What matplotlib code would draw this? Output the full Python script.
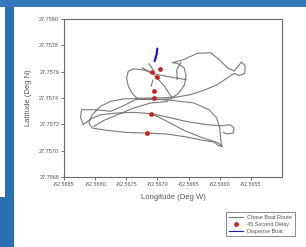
import numpy as np
import matplotlib
matplotlib.use("Agg")
import matplotlib.pyplot as plt
from matplotlib.patches import Rectangle
from matplotlib.lines import Line2D

plt.rcParams['font.family'] = ['Liberation Sans', 'DejaVu Sans']
plt.rcParams['axes.unicode_minus'] = False

N = np.nan
# Chase boat route (lon, lat), legs separated by NaN
route_lon = [
    -82.567083, -82.567217, -82.567377, -82.567468, -82.567495, -82.567468, -82.567404, -82.567324,
    -82.567163, -82.567002, -82.566788, -82.566654, -82.566563, -82.566541, -82.566573, -82.566681,
    -82.566761,
    -82.566573, -82.566359, -82.566145, -82.566011, -82.565877, -82.565770, -82.565705, -82.565652,
    -82.565593, -82.565598, -82.565689, -82.565770, -82.565877, -82.566038, -82.566252, -82.566466,
    -82.566681, -82.566949, -82.567270, -82.567538, -82.567752, -82.567913, -82.568047, -82.568101,
    -82.568047,
    -82.567806, -82.567484, -82.567163, -82.566841, -82.566520, -82.566252, -82.566038, -82.565957,
    -82.566027,
    -82.566091, -82.566305, -82.566573, -82.566841, -82.567099, -82.567377, -82.567645, -82.567913,
    -82.568074, -82.568192, -82.568235, -82.568219, -82.567994, -82.567752, -82.567565, -82.567350,
    -82.567083,
    -82.566734, -82.566413, -82.566171, -82.566048, -82.566000, -82.565984, -82.565973, N,
    -82.567099, -82.566841, -82.566520, -82.566198, -82.565984, -82.565834, -82.565770, -82.565786,
    -82.565877, -82.565941, N,
    -82.567243, -82.567083, -82.566815, -82.566541, N,
    -82.567045, -82.566895, -82.566761, N,
    -82.566627, -82.566691, -82.566681, N,
    -82.568020, -82.567860, -82.567645, -82.567377, -82.567109, -82.566841, N,
    -82.567136, -82.567066, N,
    -82.567077, -82.567099,
]
route_lat = [
    27.757591, 27.757612, 27.757622, 27.757604, 27.757553, 27.757490, 27.757434, 27.757398,
    27.757388, 27.757388, 27.757393, 27.757439, 27.757502, 27.757571, 27.757630, 27.757663,
    27.757668,
    27.757693, 27.757739, 27.757744, 27.757693, 27.757630, 27.757604, 27.757642, 27.757673,
    27.757647, 27.757586, 27.757571, 27.757586, 27.757553, 27.757502, 27.757459, 27.757426,
    27.757408, 27.757401, 27.757398, 27.757393, 27.757375, 27.757337, 27.757273, 27.757210,
    27.757172,
    27.757154, 27.757138, 27.757133, 27.757126, 27.757103, 27.757077, 27.757062, 27.757032,
    27.757039,
    27.757070, 27.757103, 27.757154, 27.757222, 27.757281, 27.757291, 27.757286, 27.757273,
    27.757240, 27.757197, 27.757255, 27.757311, 27.757311, 27.757299, 27.757337, 27.757388,
    27.757393,
    27.757380, 27.757362, 27.757311, 27.757248, 27.757172, 27.757095, 27.757032, N,
    27.757281, 27.757255, 27.757220, 27.757197, 27.757189, 27.757197, 27.757172, 27.757133,
    27.757128, 27.757138, N,
    27.757630, 27.757586, 27.757561, 27.757540, N,
    27.757571, 27.757495, 27.757398, N,
    27.757670, 27.757612, 27.757540, N,
    27.757184, 27.757230, 27.757273, 27.757324, 27.757362, 27.757373, N,
    27.757660, 27.757612, N,
    27.757535, 27.757490,
]

# 45 second delay points
delay_lon = [-82.567083, -82.566965, -82.567002, -82.567056, -82.567056, -82.567099, -82.567163]
delay_lat = [27.757596, 27.757622, 27.757561, 27.757456, 27.757398, 27.757281, 27.757133]

# Dispense boat track
disp_lon = [-82.567045, -82.567030, -82.567013, -82.567002]
disp_lat = [27.757680, 27.757705, 27.757731, 27.757775]

xticks = [-82.5685, -82.5680, -82.5675, -82.5670, -82.5665, -82.5660, -82.5655]
yticks = [27.7568, 27.7570, 27.7572, 27.7574, 27.7576, 27.7578, 27.7580]

W, H = 306, 247
fig = plt.figure(figsize=(W / 100, H / 100), dpi=100)
fig.patch.set_facecolor('white')

blue = '#2b70b3'
fig.patches.append(Rectangle((0, 1 - 7 / H), 1, 7 / H, transform=fig.transFigure,
                             facecolor='#3479bb', edgecolor='none', zorder=-5))
fig.patches.append(Rectangle((5 / W, 0), 9 / W, 1 - 7 / H, transform=fig.transFigure,
                             facecolor=blue, edgecolor='none', zorder=-5))
fig.patches.append(Rectangle((0, 0), 5 / W, 50 / H, transform=fig.transFigure,
                             facecolor=blue, edgecolor='none', zorder=-5))

ax = fig.add_axes([64 / W, 1 - 177 / H, 218 / W, 158 / H])
ax.plot(route_lon, route_lat, color='#7a7a7a', lw=0.8, solid_joinstyle='round')
ax.plot(disp_lon, disp_lat, color='#1a1acc', lw=1.6, solid_capstyle='round')
ax.plot(delay_lon, delay_lat, linestyle='none', marker='o', ms=3.0,
        mfc='#d41c1c', mec='#b01010', mew=0.3)

ax.set_xlim(-82.5685, -82.5650)
ax.set_ylim(27.7568, 27.7580)
ax.set_xticks(xticks)
ax.set_yticks(yticks)
ax.set_xticklabels([f"{v:.4f}" for v in xticks])
ax.set_yticklabels([f"{v:.4f}" for v in yticks])
ax.tick_params(axis='both', direction='out', length=2, width=0.6, colors='#555555',
               labelsize=4.0, pad=1.5, labelcolor='#555555')
for s in ax.spines.values():
    s.set_color('#6a6a6a')
    s.set_linewidth(0.8)

ax.set_xlabel('Longitude (Deg W)', fontsize=5.5, color='#555555', labelpad=5)
ax.set_ylabel('Latitude (Deg N)', fontsize=5.5, color='#555555', labelpad=5)

handles = [
    Line2D([], [], color='#7a7a7a', lw=0.8),
    Line2D([], [], linestyle='none', marker='o', ms=3.0, mfc='#d41c1c', mec='#b01010', mew=0.3),
    Line2D([], [], color='#1a1acc', lw=0.8),
]
labels = ['Chase Boat Route', '45 Second Delay', 'Dispense Boat']
leg = fig.legend(handles, labels, loc='upper left', bbox_to_anchor=(226 / W, 1 - 212 / H),
                 bbox_transform=fig.transFigure, fontsize=4.0, frameon=True, fancybox=False,
                 edgecolor='#555555', borderpad=0.5, labelspacing=0.35, handlelength=2.5,
                 handletextpad=0.8, borderaxespad=0)
leg.get_frame().set_linewidth(0.6)
for t in leg.get_texts():
    t.set_color('#555555')

fig.savefig('out.png', dpi=100)
